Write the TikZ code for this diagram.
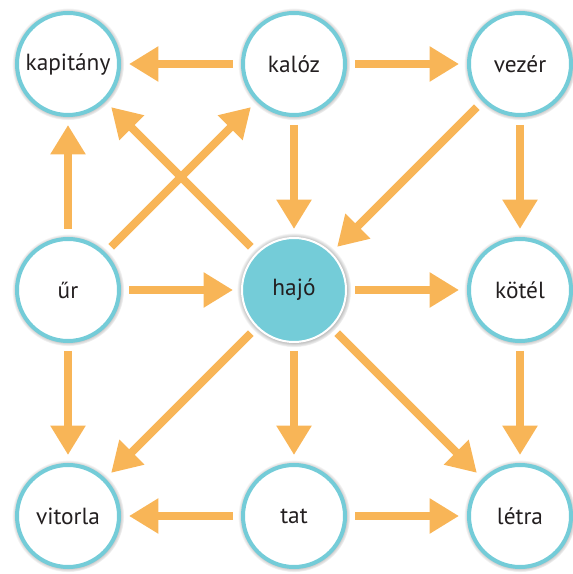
\documentclass[tikz,border=0pt]{standalone}
\usepackage{fontspec}
\setmainfont{PT Sans}
\usetikzlibrary{positioning}
\usetikzlibrary{arrows.meta, shadows}
\definecolor{ringcyan}{RGB}{116,204,216}
\definecolor{arroworange}{RGB}{248,181,87}
\definecolor{wordgray}{RGB}{35,31,32}
\tikzset{
  word/.style={circle, draw=ringcyan, line width=3pt, fill=white, minimum size=76.5pt, inner sep=0pt,
    font=\fontsize{17.5}{20}\selectfont, text=wordgray,
    circular glow={fill=black!75, opacity=0.6, shadow scale=1.1}},
  mainword/.style={word, draw=white, line width=1.5pt, minimum size=78pt, fill=ringcyan},
  link/.style={draw=arroworange, line width=6pt, -{Triangle[length=22pt,width=25pt]},
    shorten <=6pt, shorten >=6pt}
}
\begin{document}
\begin{tikzpicture}[on grid, node distance=169.5pt]
\useasboundingbox (0,0) rectangle (429pt,430.5pt);
% top row
\node[word] (kapitany) at (51pt,382.5pt) {kapitány};
\node[word, right=of kapitany] (kaloz) {kalóz};
\node[word, right=of kaloz] (vezer) {vezér};
% middle row
\node[word, below=of kapitany] (ur) {űr};
\node[mainword, right=of ur] (hajo) {hajó};
\node[word, right=of hajo] (kotel) {kötél};
% bottom row
\node[word, below=of ur] (vitorla) {vitorla};
\node[word, right=of vitorla] (tat) {tat};
\node[word, right=of tat] (letra) {létra};

\draw[link] (kaloz) -- (kapitany);
\draw[link] (kaloz) -- (vezer);
\draw[link] (kaloz) -- (hajo);
\draw[link] (vezer) -- (hajo);
\draw[link] (vezer) -- (kotel);
\draw[link] (ur) -- (kapitany);
\draw[link] (ur) -- (kaloz);
\draw[link] (hajo) -- (kapitany);
\draw[link] (ur) -- (hajo);
\draw[link] (hajo) -- (kotel);
\draw[link] (kotel) -- (letra);
\draw[link] (ur) -- (vitorla);
\draw[link] (hajo) -- (vitorla);
\draw[link] (hajo) -- (tat);
\draw[link] (hajo) -- (letra);
\draw[link] (tat) -- (vitorla);
\draw[link] (tat) -- (letra);
\end{tikzpicture}
\end{document}
